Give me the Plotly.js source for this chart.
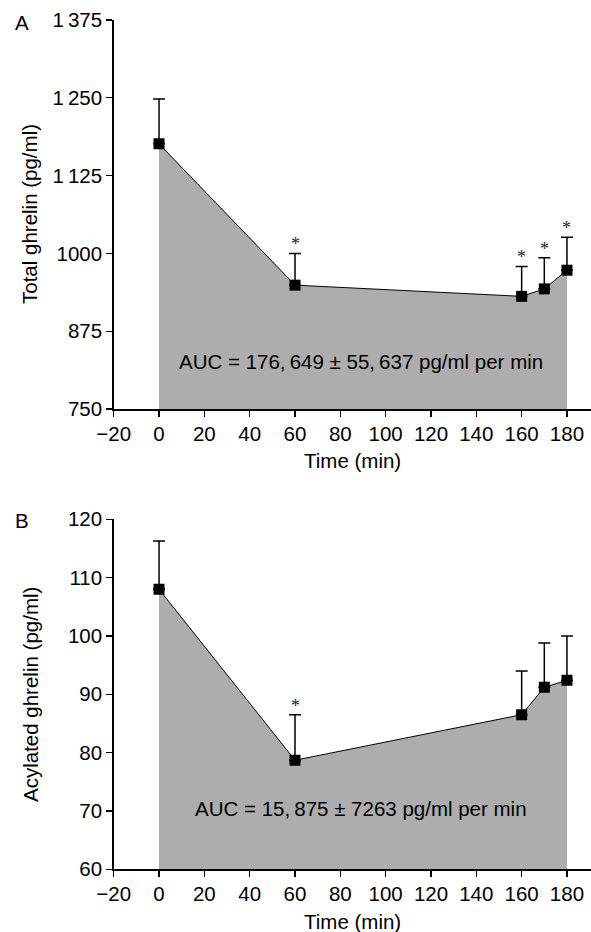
<!DOCTYPE html>
<html>
<head>
<meta charset="utf-8">
<script src="https://cdn.plot.ly/plotly-3.0.1.min.js"></script>
<style>html,body{margin:0;padding:0;background:#fff;}#chart{width:591px;height:932px;}</style>
</head>
<body>
<div id="chart"></div>
<script>
// ---- data ----
const timeMin = [0, 60, 160, 170, 180];
const totalGhrelin = [1176, 949, 931, 943, 973];
const totalGhrelinSEM = [72, 51, 48, 50, 53];
const totalSig = [false, true, true, true, true];
const acylGhrelin = [108.0, 78.7, 86.5, 91.2, 92.4];
const acylGhrelinSEM = [8.3, 7.8, 7.5, 7.6, 7.6];
const acylSig = [false, true, false, false, false];
const xTickVals = [-20, 0, 20, 40, 60, 80, 100, 120, 140, 160, 180];
const xTickText = ['\u221220', '0', '20', '40', '60', '80', '100', '120', '140', '160', '180'];
const yTopTickVals = [750, 875, 1000, 1125, 1250, 1375];
const yTopTickText = ['750', '875', '1000', '1\u2009125', '1\u2009250', '1\u2009375'];
const yBotTickVals = [60, 70, 80, 90, 100, 110, 120];
const xTitle = 'Time (min)';
const yTitleA = 'Total ghrelin (pg/ml)';
const yTitleB = 'Acylated ghrelin (pg/ml)';
const aucTextA = 'AUC = 176,\u2009649 \u00b1 55,\u2009637 pg/ml per min';
const aucTextB = 'AUC = 15,\u2009875 \u00b1 7263 pg/ml per min';

const FONT = 'Liberation Sans, Arial, Helvetica, sans-serif';
const FS = 20.5;
const W = 591, H = 932;
const fillCol = '#adadad';

function series(y, err, xa, ya) {
  return {
    x: timeMin, y: y, xaxis: xa, yaxis: ya,
    type: 'scatter', mode: 'lines+markers',
    fill: 'tozeroy', fillcolor: fillCol,
    line: {color: '#000', width: 1},
    marker: {symbol: 'square', size: 11, color: '#000'},
    error_y: {type: 'data', array: err, arrayminus: err.map(() => 0), symmetric: false,
              color: '#000', thickness: 1.5, width: 6},
    showlegend: false, hoverinfo: 'skip'
  };
}

const data = [
  series(totalGhrelin, totalGhrelinSEM, 'x', 'y'),
  series(acylGhrelin, acylGhrelinSEM, 'x2', 'y2')
];

const starFont = {family: 'Liberation Serif, serif', size: 18, color: '#222'};
const txtFont = {family: FONT, size: FS, color: '#000'};
const annotations = [];
timeMin.forEach((t, i) => {
  if (totalSig[i]) annotations.push({x: t, y: totalGhrelin[i] + totalGhrelinSEM[i], xref: 'x', yref: 'y',
    text: '*', showarrow: false, xanchor: 'center', yanchor: 'bottom', yshift: -3, font: starFont});
  if (acylSig[i]) annotations.push({x: t, y: acylGhrelin[i] + acylGhrelinSEM[i], xref: 'x2', yref: 'y2',
    text: '*', showarrow: false, xanchor: 'center', yanchor: 'bottom', yshift: -3, font: starFont});
});
annotations.push({x: 89, y: 826, xref: 'x', yref: 'y', text: aucTextA, showarrow: false,
  xanchor: 'center', yanchor: 'middle', font: txtFont});
annotations.push({x: 89, y: 70.5, xref: 'x2', yref: 'y2', text: aucTextB, showarrow: false,
  xanchor: 'center', yanchor: 'middle', font: txtFont});
function pa(px, py, text, angle) {
  return {x: px / W, y: 1 - py / H, xref: 'paper', yref: 'paper', text: text, showarrow: false,
          xanchor: 'center', yanchor: 'middle', textangle: angle || 0, font: txtFont};
}
annotations.push(pa(22, 22, 'A'));
annotations.push(pa(22, 520, 'B'));
annotations.push(pa(352, 460, xTitle));
annotations.push(pa(352, 921, xTitle));
annotations.push(pa(30, 214, yTitleA, -90));
annotations.push(pa(30, 695, yTitleB, -90));

const xDom = [113.7 / W, 1];
function xAxis(anchor) {
  return {domain: xDom, range: [-20, 190.6], anchor: anchor, tickmode: 'array', tickvals: xTickVals, ticktext: xTickText,
    ticks: 'outside', ticklen: 6, tickwidth: 1.2, tickcolor: '#000', showline: true, linecolor: '#000', linewidth: 1.5,
    showgrid: false, zeroline: false, tickfont: txtFont};
}
function yAxis(anchor, dom, range, tv, tt) {
  return {domain: dom, range: range, anchor: anchor, tickmode: 'array', tickvals: tv, ticktext: tt,
    ticks: 'outside', ticklen: 6, tickwidth: 1.2, tickcolor: '#000', showline: true, linecolor: '#000', linewidth: 1.5,
    showgrid: false, zeroline: false, tickfont: txtFont};
}

const layout = {
  width: W, height: H,
  margin: {l: 0, r: 0, t: 0, b: 0},
  paper_bgcolor: '#fff', plot_bgcolor: '#fff',
  xaxis: xAxis('y'),
  yaxis: yAxis('x', [1 - 409 / H, 1 - 20 / H], [750, 1375], yTopTickVals, yTopTickText),
  xaxis2: xAxis('y2'),
  yaxis2: yAxis('x2', [1 - 869.3 / H, 1 - 519.3 / H], [60, 120], yBotTickVals, yBotTickVals.map(String)),
  annotations: annotations
};

Plotly.newPlot('chart', data, layout, {displayModeBar: false, staticPlot: true});
</script>
</body>
</html>
